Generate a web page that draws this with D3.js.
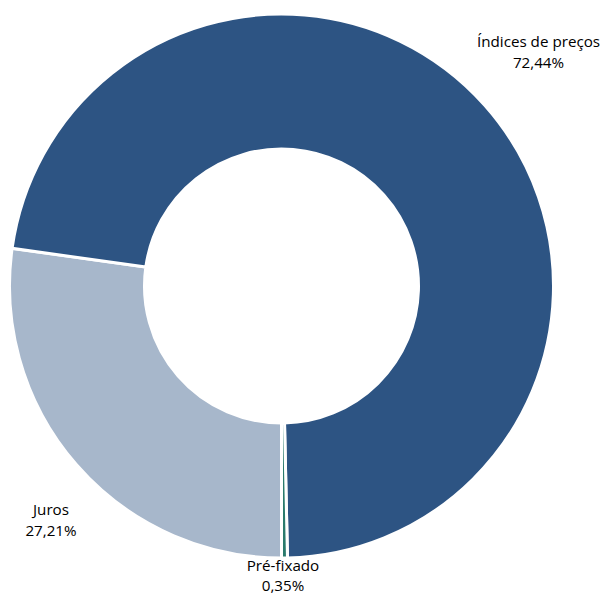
<!DOCTYPE html>
<html>
<head>
<meta charset="utf-8">
<script src="https://cdn.jsdelivr.net/npm/d3@7"></script>
<style>
  html, body { margin: 0; padding: 0; background: #fff; }
  svg text { font-family: "Open Sans", "Noto Sans", sans-serif; fill: #000; }
</style>
</head>
<body>
<svg id="chart" width="608" height="596"></svg>
<script>
// Composition by index type
const categories = ["Juros", "Índices de preços", "Pré-fixado"];
const shares = [27.21, 72.44, 0.35];
const shareLabels = ["27,21%", "72,44%", "0,35%"];
const colors = ["#a7b7cb", "#2d5483", "#2a7a6c"];

const width = 608, height = 596;
const cx = 281.5, cy = 286;
const outerR = 272, innerR = 137;

const svg = d3.select("#chart");
const g = svg.append("g").attr("transform", `translate(${cx},${cy})`);

const pie = d3.pie()
  .sort(null)
  .value(d => d)
  .startAngle(Math.PI)
  .endAngle(3 * Math.PI);

const arc = d3.arc().innerRadius(innerR).outerRadius(outerR);
const arcs = pie(shares);

g.selectAll("path.slice")
  .data(arcs)
  .join("path")
  .attr("class", "slice")
  .attr("d", arc)
  .attr("fill", (d, i) => colors[i])
  .attr("stroke", "#fff")
  .attr("stroke-width", 3)
  .attr("stroke-linejoin", "miter");

// Label anchors: centre x and first-line baseline, in page coordinates
const labelPos = [
  [51, 515],
  [538.5, 47],
  [283, 570.5]
];
const lineGap = 20.5;
const fontSize = 15.2;

const lbl = svg.selectAll("g.lbl")
  .data(arcs)
  .join("g")
  .attr("class", "lbl")
  .attr("transform", (d, i) => `translate(${labelPos[i][0]},${labelPos[i][1]})`);

lbl.append("text")
  .attr("text-anchor", "middle")
  .attr("font-size", fontSize)
  .text((d, i) => categories[i]);

lbl.append("text")
  .attr("text-anchor", "middle")
  .attr("font-size", fontSize)
  .attr("y", lineGap)
  .text((d, i) => shareLabels[i]);
</script>
</body>
</html>
